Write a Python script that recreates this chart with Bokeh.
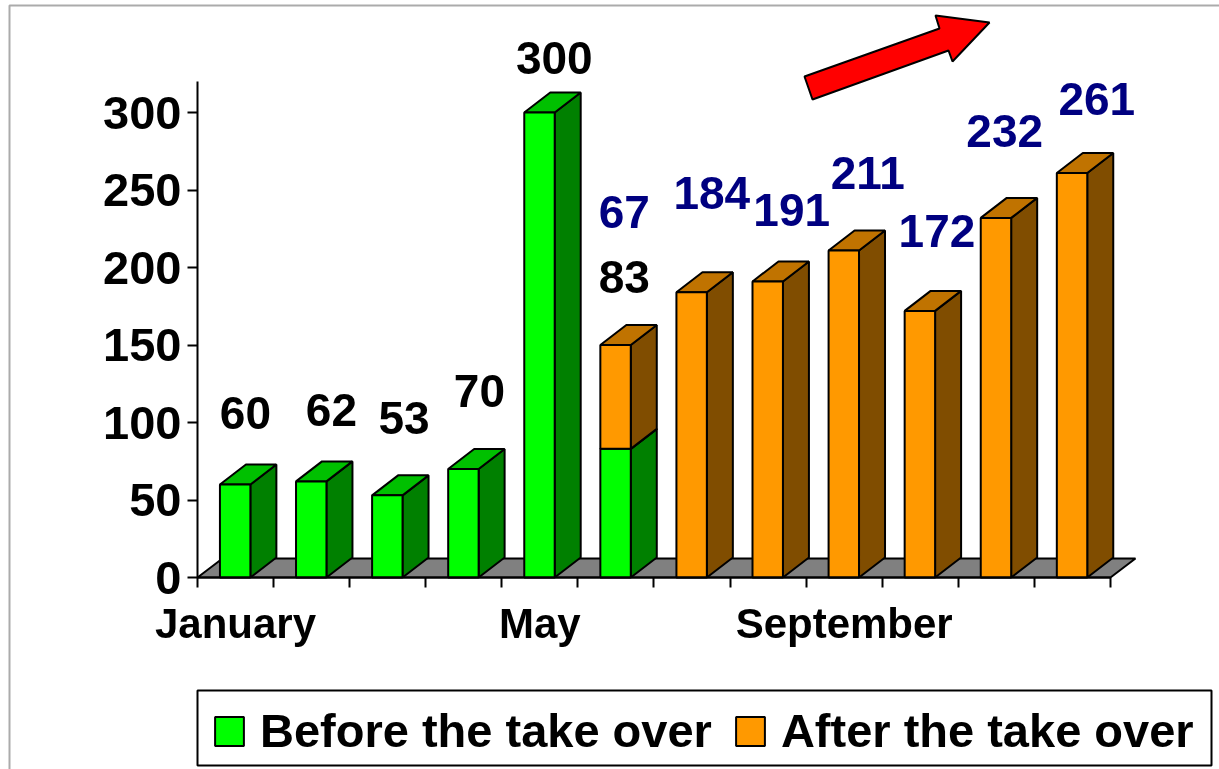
from bokeh.plotting import figure
from bokeh.models import (LinearAxis, FixedTicker, Range1d, Legend, LegendItem,
                          PolyAnnotation)
from bokeh.core.properties import value
from bokeh.embed import file_html
from bokeh.resources import INLINE

# ---- data ----
months = ["January", "", "", "", "May", "", "", "", "September", "", "", ""]
before_values = [60, 62, 53, 70, 300, 83]
after_values = [67, 184, 191, 211, 172, 232, 261]
after_start = 5
y_ticks = [0, 50, 100, 150, 200, 250, 300]
before_name = "Before the take over"
after_name = "After the take over"

# label placement relative to the slot start / the top of the bar
before_label_dx = [0.63, 0.76, 0.714, 0.706, 0.69, 0.61]
before_label_dy = [46, 46, 50, 50.6, 35, 111]
after_label_dx = [0.61, 0.76, 0.81, 0.81, 0.72, 0.61, 0.82]
after_label_dy = [86, 64, 46, 50, 51.4, 56, 48]

# ---- geometry (pixels of the page) ----
W, H = 1219, 769
X0, Y0 = 197.0, 577.0
PX_X = 76.08
PX_Y = 1.55
BAR_LEFT, BAR_W = 0.295, 0.40
DEPTH_X, DEPTH_Y = 26 / PX_X, 20 / PX_Y
FLOOR_DX, FLOOR_DY = 25 / PX_X, 19 / PX_Y

GREEN = ("#00FF00", "#008000", "#00C000")
ORANGE = ("#FF9900", "#804D00", "#C07300")

p = figure(width=W, height=H, output_backend="svg", toolbar_location=None,
           x_range=Range1d(-X0 / PX_X, (W - X0) / PX_X),
           y_range=Range1d(-(H - Y0) / PX_Y, Y0 / PX_Y),
           x_axis_location=None, y_axis_location=None,
           min_border=0, outline_line_color=None)
p.grid.visible = False
p.styles = {"position": "fixed", "left": "0px", "top": "0px"}

# outer picture border
p.add_layout(PolyAnnotation(xs=[9, 1240, 1240, 9], ys=[5, 5, 790, 790],
                            xs_units="canvas", ys_units="canvas",
                            fill_alpha=0, line_color="#ABABAB", line_alpha=1,
                            line_width=2, level="underlay"))

# legend box
p.add_layout(PolyAnnotation(xs=[197, 1211, 1211, 197], ys=[690, 690, 765, 765],
                            xs_units="canvas", ys_units="canvas",
                            fill_color="white", fill_alpha=1,
                            line_color="black", line_alpha=1,
                            line_width=2, level="underlay"))

# floor
p.patch([0, 12, 12 + FLOOR_DX, FLOOR_DX], [0, 0, FLOOR_DY, FLOOR_DY],
        fill_color="#808080", line_color="black", line_width=2)


def segments(idx, bottoms, tops, colors):
    left = [i + BAR_LEFT for i in idx]
    right = [i + BAR_LEFT + BAR_W for i in idx]
    # side faces
    p.patches([[r, r + DEPTH_X, r + DEPTH_X, r] for r in right],
              [[b, b + DEPTH_Y, t + DEPTH_Y, t] for b, t in zip(bottoms, tops)],
              fill_color=colors[1], line_color="black", line_width=2)
    # top faces
    p.patches([[l, r, r + DEPTH_X, l + DEPTH_X] for l, r in zip(left, right)],
              [[t, t, t + DEPTH_Y, t + DEPTH_Y] for t in tops],
              fill_color=colors[2], line_color="black", line_width=2)
    # front faces
    return p.quad(left=left, right=right, bottom=bottoms, top=tops,
                  fill_color=colors[0], line_color="black", line_width=2)


before_idx = list(range(len(before_values)))
after_idx = [after_start + i for i in range(len(after_values))]
after_bottoms = [before_values[i] if i < len(before_values) else 0 for i in after_idx]
after_tops = [b + v for b, v in zip(after_bottoms, after_values)]

r_before = segments(before_idx, [0] * len(before_values), before_values, GREEN)
r_after = segments(after_idx, after_bottoms, after_tops, ORANGE)

# value labels
FONT = value("Liberation Sans")
p.text(x=[i + d for i, d in zip(before_idx, before_label_dx)],
       y=[v + d for v, d in zip(before_values, before_label_dy)],
       text=[str(v) for v in before_values],
       text_font=FONT, text_font_style="bold", text_font_size="46px",
       text_color="black", text_align="center", text_baseline="middle")
p.text(x=[i + d for i, d in zip(after_idx, after_label_dx)],
       y=[t + d for t, d in zip(after_tops, after_label_dy)],
       text=[str(v) for v in after_values],
       text_font=FONT, text_font_style="bold", text_font_size="46px",
       text_color="#000080", text_align="center", text_baseline="middle")

# axes
y_axis = LinearAxis(fixed_location=0, bounds=(0, 320),
                    ticker=FixedTicker(ticks=y_ticks),
                    major_tick_out=10, major_tick_in=0, minor_tick_out=0,
                    major_tick_line_width=2, axis_line_width=2,
                    major_tick_line_color="black", axis_line_color="black",
                    major_label_standoff=6,
                    major_label_text_color="black",
                    major_label_text_font="Liberation Sans",
                    major_label_text_font_style="bold",
                    major_label_text_font_size="47px")
p.add_layout(y_axis, "left")

x_axis = LinearAxis(fixed_location=0, bounds=(0, 12),
                    ticker=FixedTicker(ticks=list(range(13))),
                    major_tick_out=10, major_tick_in=0, minor_tick_out=0,
                    major_tick_line_width=2, axis_line_width=2,
                    major_tick_line_color="black", axis_line_color="black",
                    major_label_text_font_size="0px",
                    major_label_text_color=None)
p.add_layout(x_axis, "below")

mid_ticks = [i + 0.5 for i, m in enumerate(months) if m]
label_axis = LinearAxis(fixed_location=0,
                        ticker=FixedTicker(ticks=mid_ticks),
                        major_label_overrides={i + 0.5: m for i, m in enumerate(months) if m},
                        major_tick_out=0, major_tick_in=0, minor_tick_out=0,
                        axis_line_color=None, major_tick_line_color=None,
                        major_label_standoff=22,
                        major_label_text_color="black",
                        major_label_text_font="Liberation Sans",
                        major_label_text_font_style="bold",
                        major_label_text_font_size="42px")
p.add_layout(label_axis, "below")

# red arrow
p.add_layout(PolyAnnotation(xs=[804, 812, 948, 952, 989, 935, 939],
                            ys=[76, 99, 50, 61, 22, 15, 28],
                            xs_units="canvas", ys_units="canvas",
                            fill_color="#FF0000", fill_alpha=1,
                            line_color="black", line_alpha=1, line_width=2))

# legend
legend = Legend(items=[LegendItem(label=before_name, renderers=[r_before]),
                       LegendItem(label=after_name, renderers=[r_after])],
                orientation="horizontal", location=(211, 11),
                padding=0, margin=0, spacing=20,
                glyph_width=36, glyph_height=36, label_standoff=13,
                label_text_font="Liberation Sans", label_text_font_style="bold",
                label_text_font_size="47px", label_text_color="black",
                border_line_color=None,
                background_fill_alpha=0)
p.add_layout(legend, "center")

open("out.html", "w").write(file_html(p, INLINE))
